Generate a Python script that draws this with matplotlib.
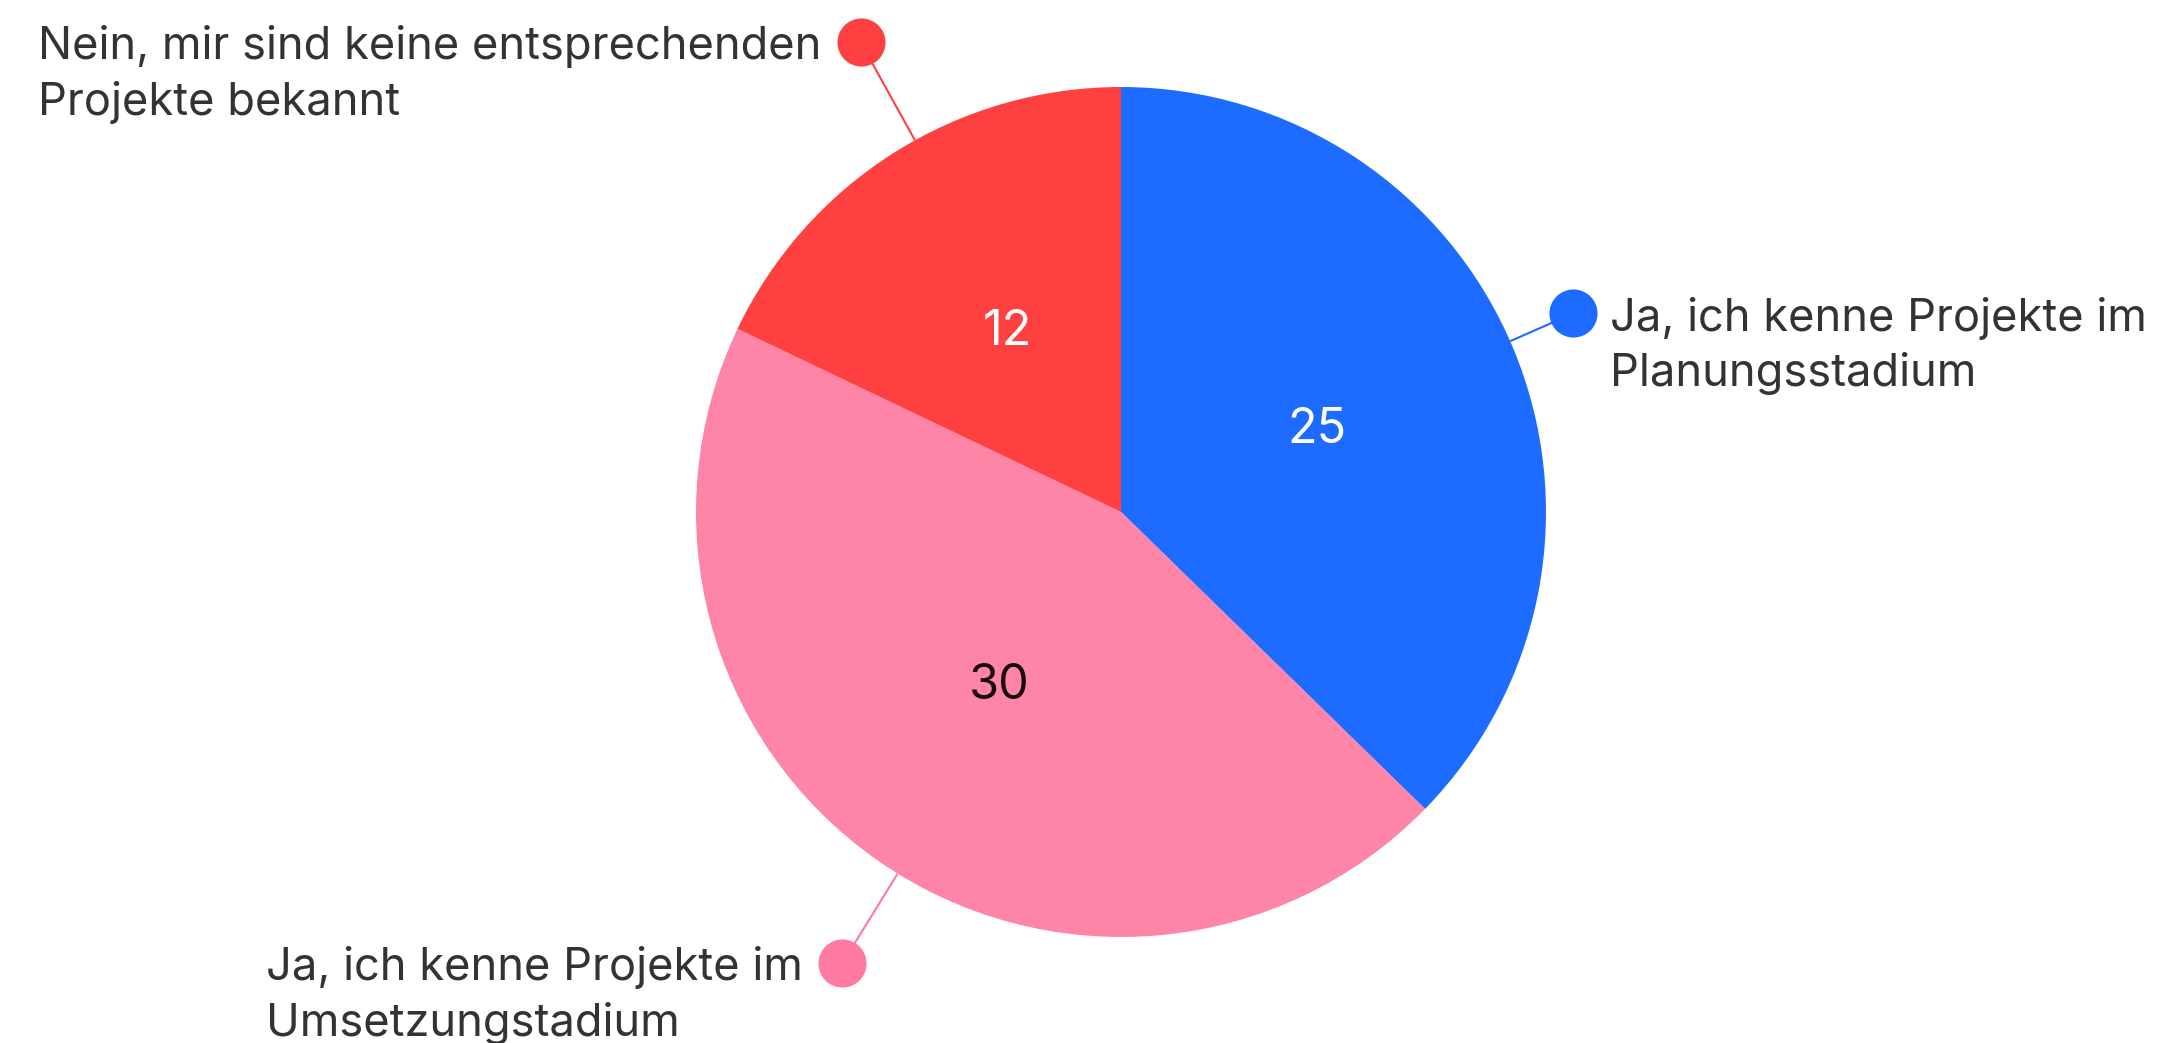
import matplotlib
matplotlib.use("Agg")
import matplotlib.pyplot as plt
import numpy as np

# Data
categories = [
    "Ja, ich kenne Projekte im\nPlanungsstadium",
    "Ja, ich kenne Projekte im\nUmsetzungstadium",
    "Nein, mir sind keine entsprechenden\nProjekte bekannt",
]
values = [25, 30, 12]

# Styles / layout
colors = ["#1E6BFF", "#FF85A8", "#FF4040"]
dot_colors = ["#1E6BFF", "#FF7AA0", "#FF4040"]
value_colors = ["#FFFFFF", "#1A0A12", "#FFFFFF"]
callout_angle = [23.7, -121.7, 119.0]      # degrees
callout_radius = [1.162, 1.248, 1.264]      # in pie radii
label_side = ["right", "left", "left"]
FONT = ["Inter", "DejaVu Sans"]
TEXT_COLOR = "#333333"

W, H, DPI = 2161, 1043, 100
PX2PT = 72.0 / DPI
fig = plt.figure(figsize=(W / DPI, H / DPI), dpi=DPI)
ax = fig.add_axes([0, 0, 1, 1])

wedges, _, autotexts = ax.pie(
    values, colors=colors, startangle=90, counterclock=False,
    radius=1.0, autopct=lambda p: "", pctdistance=0.5,
    wedgeprops=dict(linewidth=0, antialiased=True),
)
for at, v, c in zip(autotexts, values, value_colors):
    at.set_text(str(v))
    at.set_color(c)
    at.set_fontsize(35)
    at.set_family(FONT)
    at.set_va("center")
    at.set_ha("center")

# axis limits so that center is at px (1121, 512) and radius = 425 px
R_PX = 425.0
cx, cy = 1121.0, 512.0
ax.set_xlim(-cx / R_PX, (W - cx) / R_PX)
ax.set_ylim(-(H - cy) / R_PX, cy / R_PX)
ax.set_aspect("auto")
ax.axis("off")

LINE_GAP_PX = 56
for i, lab in enumerate(categories):
    a = np.deg2rad(callout_angle[i])
    x0, y0 = np.cos(a), np.sin(a)
    r = callout_radius[i]
    x1, y1 = r * np.cos(a), r * np.sin(a)
    ax.plot([x0, x1], [y0, y1], color=dot_colors[i], lw=1.5, zorder=3,
            solid_capstyle="butt")
    ax.scatter([x1], [y1], s=1200, color=dot_colors[i], zorder=4, linewidths=0)
    if label_side[i] == "right":
        ha, dx = "left", 37
    else:
        ha, dx = "right", -39
    nlines = lab.count("\n")
    dy = -(17 + LINE_GAP_PX * nlines)
    ax.annotate(lab, xy=(x1, y1), xytext=(dx * PX2PT, dy * PX2PT),
                textcoords="offset points",
                ha=ha, va="baseline", multialignment="left", fontsize=32.6,
                family=FONT, color=TEXT_COLOR, linespacing=1.38, zorder=5)

fig.savefig("out.png", dpi=DPI, facecolor="white")
